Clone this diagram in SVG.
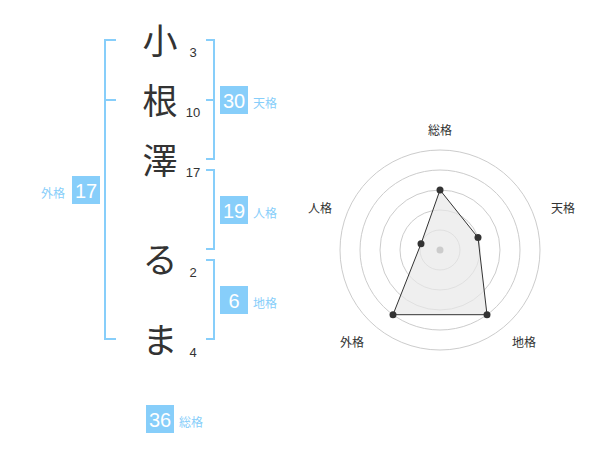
<svg xmlns="http://www.w3.org/2000/svg" width="600" height="470" viewBox="0 0 600 470">
<style>
.br{fill:none;stroke:#87cefa;stroke-width:2}
.box{fill:#87cefa}
.bn{font-family:"Liberation Sans",Arial,sans-serif;font-size:20px;fill:#fff;text-anchor:middle}
.lb{font-family:"Noto Sans CJK JP",sans-serif;font-size:12px;fill:#87cefa}
.ch{font-family:"Noto Sans CJK JP",sans-serif;font-size:35px;fill:#333;text-anchor:middle}
.st{font-family:"Liberation Sans",Arial,sans-serif;font-size:13px;fill:#333;text-anchor:middle}
.rl{font-family:"Noto Sans CJK JP",sans-serif;font-size:12px;fill:#333;text-anchor:middle}
.ring{fill:none;stroke:#ccc;stroke-width:1}
.pt{fill:#333}
</style>
<rect width="600" height="470" fill="#fff"/>
<g id="connectors">
<path class="br" d="M116,40 H105 V339 H116 M105,100 H116"/>
<path class="br" d="M206,40 H214 V159 H206 M214,100 H206"/>
<path class="br" d="M206,170 H214 V249 H206"/>
<path class="br" d="M206,260 H214 V339 H206"/>
</g>
<g id="chars">
<text class="ch" x="160" y="54">小</text>
<text class="ch" x="160" y="114">根</text>
<text class="ch" x="160" y="174">澤</text>
<text class="ch" x="160" y="273">る</text>
<text class="ch" x="160" y="353">ま</text>
<text class="st" x="193" y="57">3</text>
<text class="st" x="193" y="117">10</text>
<text class="st" x="193" y="177">17</text>
<text class="st" x="193" y="277">2</text>
<text class="st" x="193" y="357">4</text>
</g>
<g id="tenkaku">
<rect class="box" x="220" y="86" width="28" height="28"/>
<text class="bn" x="234" y="107.5">30</text>
<text class="lb" x="253" y="108">天格</text>
</g>
<g id="jinkaku">
<rect class="box" x="220" y="196" width="28" height="28"/>
<text class="bn" x="234" y="217.5">19</text>
<text class="lb" x="253" y="218">人格</text>
</g>
<g id="chikaku">
<rect class="box" x="220" y="286" width="28" height="28"/>
<text class="bn" x="234" y="307.5">6</text>
<text class="lb" x="253" y="308">地格</text>
</g>
<g id="gaikaku">
<rect class="box" x="72" y="176" width="28" height="28"/>
<text class="bn" x="86" y="197.5">17</text>
<text class="lb" x="41" y="198">外格</text>
</g>
<g id="soukaku">
<rect class="box" x="146" y="405" width="28" height="28"/>
<text class="bn" x="160" y="426.5">36</text>
<text class="lb" x="179" y="427">総格</text>
</g>
<g id="radar">
<circle class="ring" cx="440" cy="250" r="20"/>
<circle class="ring" cx="440" cy="250" r="40"/>
<circle class="ring" cx="440" cy="250" r="60"/>
<circle class="ring" cx="440" cy="250" r="80"/>
<circle class="ring" cx="440" cy="250" r="100"/>
<polygon points="440,190 478,237.6 487,314.7 393,314.7 421,243.8" fill="#e8e8e8" fill-opacity="0.7" stroke="#333" stroke-width="1"/>
<circle cx="440" cy="250" r="3.5" fill="#ccc"/>
<circle class="pt" cx="440" cy="190" r="3.5"/>
<circle class="pt" cx="478" cy="237.6" r="3.5"/>
<circle class="pt" cx="487" cy="314.7" r="3.5"/>
<circle class="pt" cx="393" cy="314.7" r="3.5"/>
<circle class="pt" cx="421" cy="243.8" r="3.5"/>
<text class="rl" x="440" y="135">総格</text>
<text class="rl" x="563" y="213">天格</text>
<text class="rl" x="320" y="213">人格</text>
<text class="rl" x="352" y="347">外格</text>
<text class="rl" x="524" y="347">地格</text>
</g>
</svg>
